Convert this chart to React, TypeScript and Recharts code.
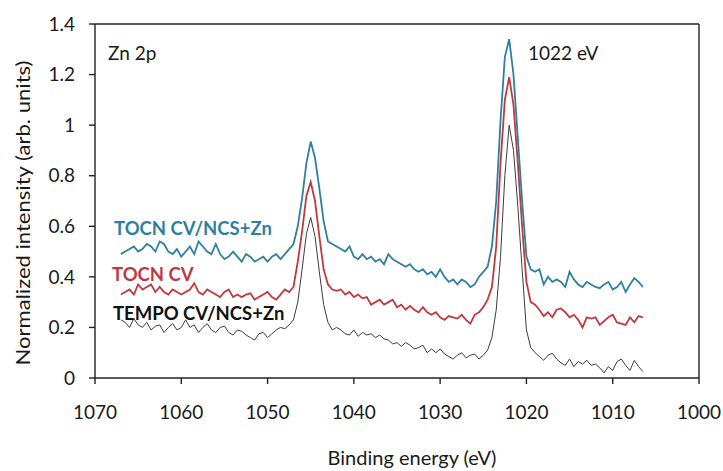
import React from 'react';
import { LineChart, Line, XAxis, YAxis, ReferenceLine } from 'recharts';

const energies = [
  1067, 1066.5, 1066, 1065.5, 1065, 1064.5, 1064, 1063.5, 1063, 1062.5,
  1062, 1061.5, 1061, 1060.5, 1060, 1059.5, 1059, 1058.5, 1058, 1057.5,
  1057, 1056.5, 1056, 1055.5, 1055, 1054.5, 1054, 1053.5, 1053, 1052.5,
  1052, 1051.5, 1051, 1050.5, 1050, 1049.5, 1049, 1048.5, 1048, 1047.5,
  1047, 1046.5, 1046, 1045.5, 1045, 1044.5, 1044, 1043.5, 1043, 1042.5,
  1042, 1041.5, 1041, 1040.5, 1040, 1039.5, 1039, 1038.5, 1038, 1037.5,
  1037, 1036.5, 1036, 1035.5, 1035, 1034.5, 1034, 1033.5, 1033, 1032.5,
  1032, 1031.5, 1031, 1030.5, 1030, 1029.5, 1029, 1028.5, 1028, 1027.5,
  1027, 1026.5, 1026, 1025.5, 1025, 1024.5, 1024, 1023.5, 1023, 1022.5,
  1022, 1021.5, 1021, 1020.5, 1020,
  1019.5, 1019, 1018.5, 1018, 1017.5, 1017, 1016.5, 1016, 1015.5, 1015,
  1014.5, 1014, 1013.5, 1013, 1012.5, 1012, 1011.5, 1011, 1010.5, 1010,
  1009.5, 1009, 1008.5, 1008, 1007.5, 1007, 1006.5,
];

const tocnCvNcsZn = [
  0.49, 0.50, 0.51, 0.52, 0.50, 0.51, 0.53, 0.52, 0.50, 0.54,
  0.53, 0.50, 0.49, 0.51, 0.48, 0.50, 0.52, 0.49, 0.54, 0.52,
  0.50, 0.49, 0.53, 0.49, 0.47, 0.48, 0.50, 0.48, 0.46, 0.49,
  0.48, 0.46, 0.47, 0.48, 0.46, 0.48, 0.49, 0.47, 0.49, 0.51,
  0.53, 0.60, 0.71, 0.85, 0.935, 0.87, 0.75, 0.62, 0.54, 0.53,
  0.52, 0.51, 0.50, 0.52, 0.48, 0.47, 0.49, 0.47, 0.48, 0.46,
  0.47, 0.45, 0.49, 0.47, 0.46, 0.45, 0.44, 0.45, 0.43, 0.42,
  0.43, 0.41, 0.42, 0.40, 0.43, 0.40, 0.38, 0.39, 0.37, 0.39,
  0.38, 0.36, 0.37, 0.40, 0.42, 0.44, 0.52, 0.70, 1.02, 1.27,
  1.34, 1.20, 0.95, 0.70, 0.48,
  0.43, 0.42, 0.43, 0.37, 0.40, 0.38, 0.39, 0.38, 0.36, 0.42,
  0.39, 0.37, 0.36, 0.38, 0.37, 0.36, 0.355, 0.37, 0.38, 0.35,
  0.36, 0.38, 0.34, 0.37, 0.395, 0.38, 0.36,
];

const tocnCv = [
  0.33, 0.34, 0.35, 0.33, 0.37, 0.35, 0.36, 0.37, 0.34, 0.36,
  0.34, 0.33, 0.35, 0.34, 0.33, 0.34, 0.35, 0.375, 0.34, 0.33,
  0.35, 0.34, 0.33, 0.32, 0.34, 0.35, 0.32, 0.33, 0.32, 0.33,
  0.335, 0.31, 0.32, 0.33, 0.34, 0.32, 0.31, 0.33, 0.35, 0.34,
  0.36, 0.46, 0.58, 0.72, 0.775, 0.70, 0.56, 0.43, 0.37, 0.35,
  0.345, 0.35, 0.33, 0.34, 0.32, 0.33, 0.315, 0.32, 0.29, 0.30,
  0.31, 0.29, 0.30, 0.31, 0.28, 0.29, 0.27, 0.285, 0.27, 0.26,
  0.28, 0.26, 0.25, 0.26, 0.24, 0.23, 0.245, 0.24, 0.235, 0.25,
  0.23, 0.215, 0.25, 0.26, 0.28, 0.31, 0.36, 0.52, 0.85, 1.10,
  1.19, 1.08, 0.85, 0.60, 0.38,
  0.30, 0.29, 0.27, 0.245, 0.26, 0.24, 0.27, 0.275, 0.26, 0.24,
  0.25, 0.23, 0.20, 0.24, 0.235, 0.24, 0.21, 0.225, 0.24, 0.25,
  0.22, 0.215, 0.21, 0.24, 0.22, 0.245, 0.24,
];

const tempoCvNcsZn = [
  0.23, 0.22, 0.20, 0.235, 0.21, 0.20, 0.22, 0.19, 0.205, 0.21,
  0.18, 0.20, 0.215, 0.19, 0.20, 0.23, 0.20, 0.21, 0.18, 0.20,
  0.215, 0.19, 0.18, 0.20, 0.205, 0.18, 0.17, 0.19, 0.185, 0.17,
  0.16, 0.15, 0.175, 0.18, 0.16, 0.175, 0.19, 0.20, 0.195, 0.21,
  0.23, 0.30, 0.43, 0.57, 0.635, 0.56, 0.42, 0.29, 0.22, 0.19,
  0.20, 0.19, 0.175, 0.17, 0.19, 0.165, 0.18, 0.17, 0.175, 0.16,
  0.17, 0.155, 0.15, 0.135, 0.14, 0.125, 0.14, 0.13, 0.115, 0.12,
  0.13, 0.10, 0.115, 0.10, 0.115, 0.095, 0.085, 0.075, 0.09, 0.10,
  0.08, 0.09, 0.095, 0.075, 0.09, 0.11, 0.16, 0.27, 0.48, 0.80,
  1.00, 0.90, 0.68, 0.43, 0.19,
  0.12, 0.10, 0.085, 0.07, 0.09, 0.098, 0.075, 0.06, 0.05, 0.075,
  0.045, 0.065, 0.055, 0.07, 0.05, 0.055, 0.04, 0.02, 0.045, 0.03,
  0.065, 0.075, 0.05, 0.03, 0.07, 0.045, 0.025,
];

const xTicks = [1070, 1060, 1050, 1040, 1030, 1020, 1010, 1000];
const yTicks = [0, 0.2, 0.4, 0.6, 0.8, 1, 1.2, 1.4];

const data = energies.map((e, i) => ({
  e,
  blue: tocnCvNcsZn[i],
  red: tocnCv[i],
  black: tempoCvNcsZn[i],
}));

const FONT = 'Lato, "Open Sans", sans-serif';
const AXIS = '#222';
const BLUE = '#2f80a0';
const RED = '#c0393f';

export default function App() {
  return (
    <div style={{ position: 'absolute', left: 0, top: 0, width: 723, height: 471, background: '#fff' }}>
      <LineChart width={723} height={471} data={data} margin={{ top: 24, right: 24, bottom: 0, left: 0 }}>
        <XAxis
          dataKey="e"
          type="number"
          domain={[1000, 1070]}
          reversed
          ticks={xTicks}
          height={93}
          axisLine={{ stroke: AXIS, strokeWidth: 1.4 }}
          tickLine={{ stroke: AXIS, strokeWidth: 1.4 }}
          tickSize={6}
          tickMargin={22}
          tick={{ fill: '#1a1a1a', fontSize: 19, fontFamily: FONT }}
          allowDataOverflow
        />
        <YAxis
          type="number"
          domain={[0, 1.4]}
          ticks={yTicks}
          width={95}
          axisLine={{ stroke: AXIS, strokeWidth: 1.4 }}
          tickLine={{ stroke: AXIS, strokeWidth: 1.4 }}
          tickSize={6}
          tickMargin={14}
          tick={{ fill: '#1a1a1a', fontSize: 19, fontFamily: FONT }}
          allowDataOverflow
        />
        <ReferenceLine y={1.4} stroke={AXIS} strokeWidth={1.4} />
        <ReferenceLine x={1000} stroke={AXIS} strokeWidth={1.4} />
        <Line dataKey="black" type="linear" stroke="#3c3c3c" strokeWidth={1} dot={false} isAnimationActive={false} />
        <Line dataKey="red" type="linear" stroke={RED} strokeWidth={1.8} dot={false} isAnimationActive={false} />
        <Line dataKey="blue" type="linear" stroke={BLUE} strokeWidth={1.8} dot={false} isAnimationActive={false} />
        <text x={108} y={60} fontFamily={FONT} fontSize={19} fill="#1a1a1a">Zn 2p</text>
        <text x={528} y={60} fontFamily={FONT} fontSize={19} fill="#1a1a1a">1022 eV</text>
        <text x={114} y={235} fontFamily={FONT} fontSize={18.5} fontWeight="bold" fill={BLUE}>TOCN CV/NCS+Zn</text>
        <text x={112} y={281} fontFamily={FONT} fontSize={18.5} fontWeight="bold" fill={RED}>TOCN CV</text>
        <text x={113} y={320} fontFamily={FONT} fontSize={18.5} fontWeight="bold" fill="#111">TEMPO CV/NCS+Zn</text>
        <text
          x={22}
          y={213}
          transform="rotate(-90 22 213)"
          textAnchor="middle"
          dominantBaseline="central"
          fontFamily={FONT}
          fontSize={19}
          textLength={305}
          lengthAdjust="spacingAndGlyphs"
          fill="#1a1a1a"
        >
          Normalized intensity (arb. units)
        </text>
        <text x={412} y={457} textAnchor="middle" dominantBaseline="central" fontFamily={FONT} fontSize={20} fill="#1a1a1a">
          Binding energy (eV)
        </text>
      </LineChart>
    </div>
  );
}
